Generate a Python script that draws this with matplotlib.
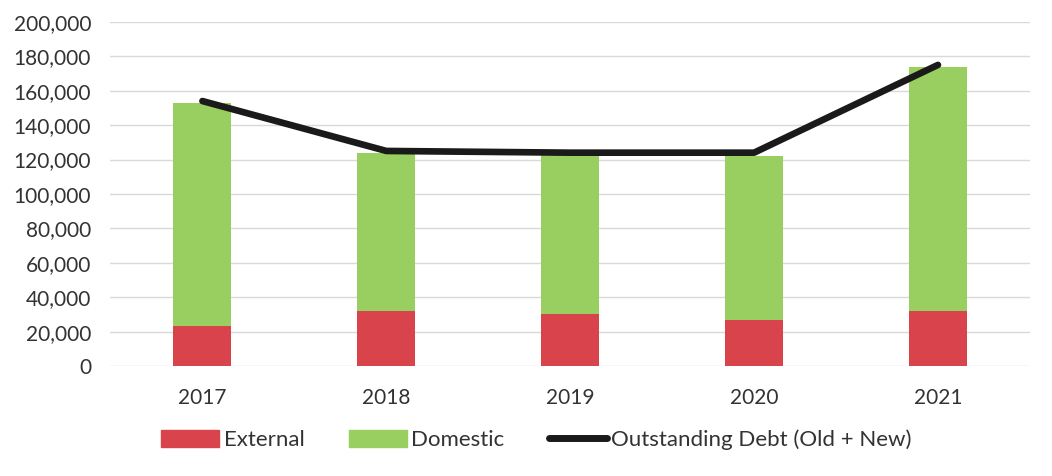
import matplotlib.pyplot as plt
from matplotlib.patches import Patch
from matplotlib.lines import Line2D
from matplotlib.ticker import FuncFormatter

plt.rcParams['font.family'] = ['Lato', 'DejaVu Sans']

years = ['2017', '2018', '2019', '2020', '2021']
external = [23500, 32000, 30000, 27000, 32000]
domestic = [129500, 92000, 92500, 95000, 142000]
outstanding = [154000, 125000, 124000, 124000, 175000]

red = '#d8434c'
green = '#98cf60'

fig = plt.figure(figsize=(10.52, 4.76), dpi=100)
ax = fig.add_axes([0.105, 0.231, 0.874, 0.723])

x = range(len(years))
ax.bar(x, external, width=0.315, color=red, zorder=2)
ax.bar(x, domestic, width=0.315, bottom=external, color=green, zorder=2)
ax.plot(x, outstanding, color='#1a1a1a', lw=4.8, solid_capstyle='round',
        solid_joinstyle='round', zorder=3)

ax.set_xlim(-0.5, 4.5)
ax.set_ylim(0, 200000)
ax.set_yticks(range(0, 200001, 20000))
ax.yaxis.set_major_formatter(FuncFormatter(lambda v, p: f'{int(v):,}'))
ax.set_xticks(list(x))
ax.set_xticklabels(years)
ax.tick_params(axis='both', length=0, labelsize=15, colors='#333333')
ax.tick_params(axis='x', pad=16)
ax.tick_params(axis='y', pad=14)
ax.grid(axis='y', color='#d9d9d9', lw=1, zorder=0)
for s in ax.spines.values():
    s.set_visible(False)

handles = [Patch(color=red, label='External'),
           Patch(color=green, label='Domestic'),
           Line2D([0], [0], color='#1a1a1a', lw=5, solid_capstyle='round',
                  label='Outstanding Debt (Old + New)')]
fig.legend(handles=handles, loc='center', bbox_to_anchor=(0.51, 0.076), ncol=3,
           frameon=False, fontsize=16, handlelength=2.6, handleheight=0.8,
           handletextpad=0.2, columnspacing=2.0, labelcolor='#333333')

fig.savefig('out.png', dpi=100)
